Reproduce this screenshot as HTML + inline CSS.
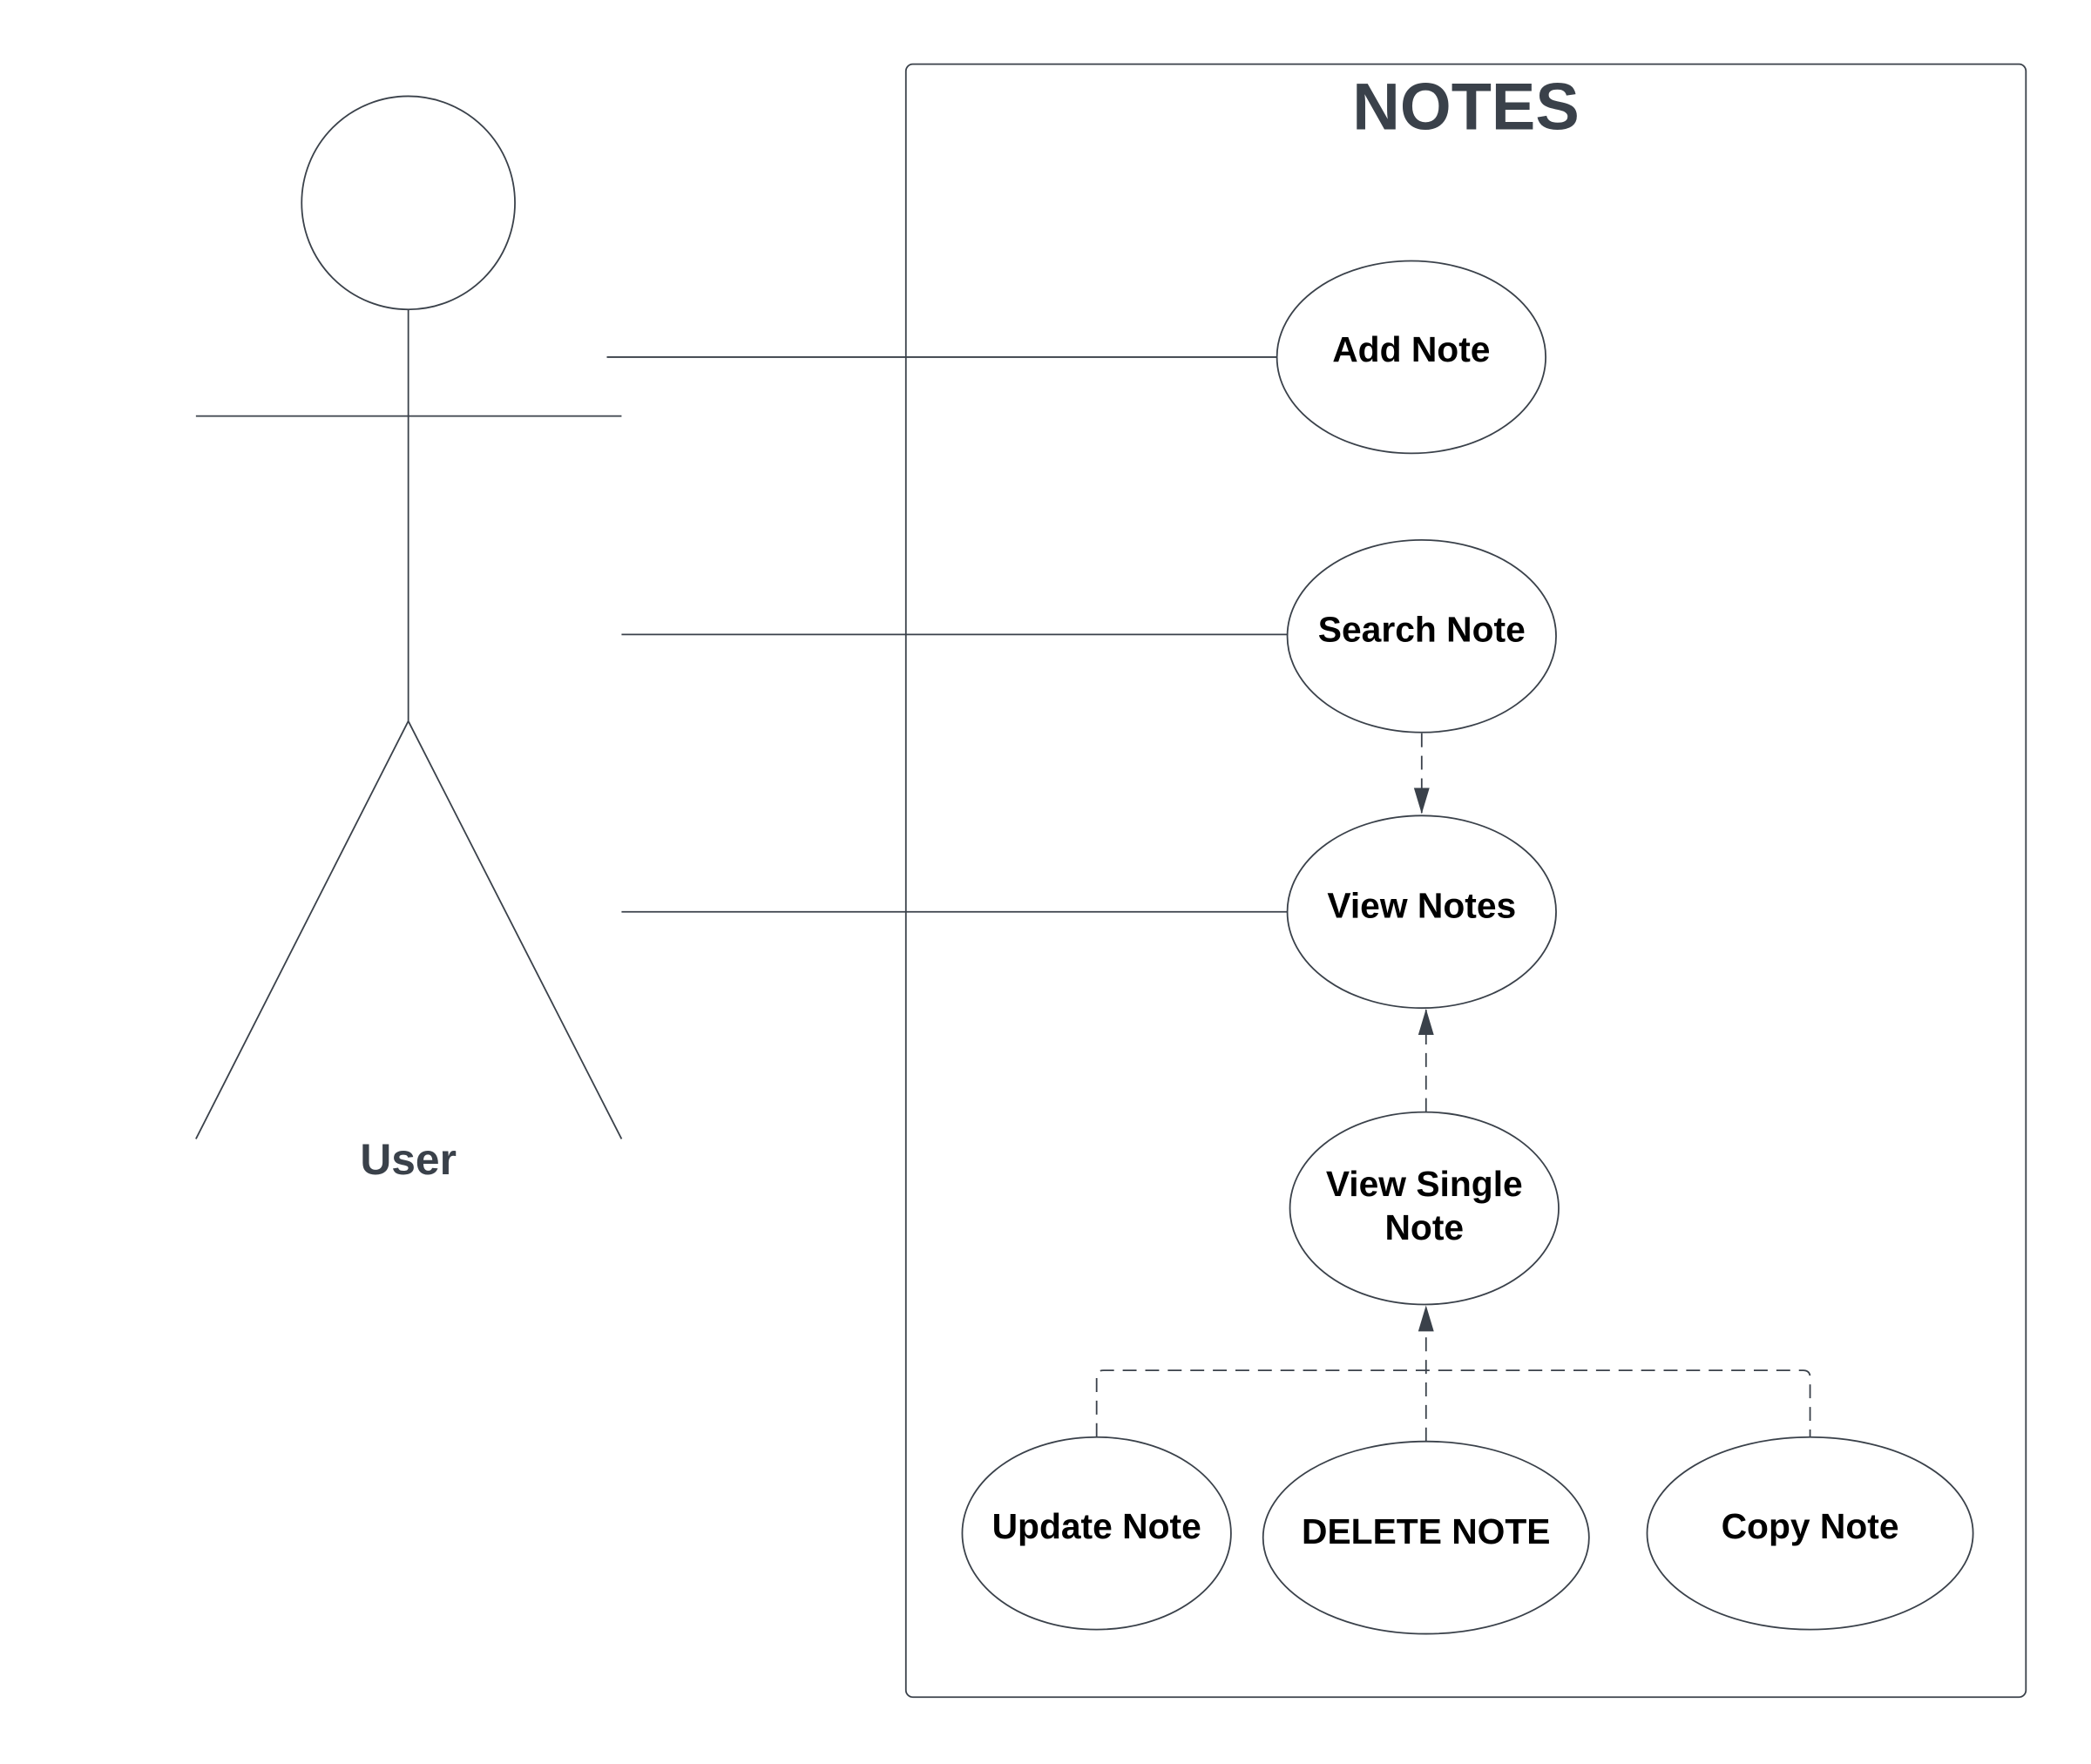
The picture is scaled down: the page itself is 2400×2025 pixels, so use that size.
<!DOCTYPE html>
<html><head><meta charset="utf-8"><style>html,body{margin:0;padding:0;background:#fff}svg{display:block}</style></head>
<body>
<svg width="2400" height="2025" viewBox="0 0 2400 2025" xmlns="http://www.w3.org/2000/svg" font-family="'Liberation Sans', Arial, sans-serif">
<defs>
<marker id="arw" viewBox="0 0 30 20" markerWidth="30" markerHeight="20" refX="29" refY="10" orient="auto" markerUnits="userSpaceOnUse">
<path d="M0,1 L30,10 L0,19 Z" fill="#3a414a"/>
</marker>
</defs>
<g transform="scale(0.995)">
<g stroke="#3a414a" stroke-width="1.8" fill="none">
<rect x="1045" y="74" width="1292" height="1884" rx="8"/>
<circle cx="471" cy="234" r="123" fill="#fff"/>
<line x1="471" y1="357" x2="471" y2="832"/>
<line x1="226" y1="480" x2="717" y2="480"/>
<line x1="471" y1="832" x2="226" y2="1314"/>
<line x1="471" y1="832" x2="717" y2="1314"/>
<line x1="700" y1="412" x2="1473" y2="412"/>
<line x1="717" y1="732" x2="1485" y2="732"/>
<line x1="717" y1="1052" x2="1485" y2="1052"/>
<g stroke-dasharray="16,10">
<line x1="1640" y1="846" x2="1640" y2="938" marker-end="url(#arw)"/>
<line x1="1645" y1="1283" x2="1645" y2="1165" marker-end="url(#arw)"/>
<line x1="1645" y1="1663" x2="1645" y2="1507" marker-end="url(#arw)"/>
<path d="M1265,1658 L1265,1589 Q1265,1581 1273,1581 L2080,1581 Q2088,1581 2088,1589 L2088,1658"/>
</g>
</g>
<g stroke="#3a414a" stroke-width="1.8" fill="#fff">
<ellipse cx="1628" cy="412" rx="155" ry="111"/>
<ellipse cx="1640" cy="734" rx="155" ry="111"/>
<ellipse cx="1640" cy="1052" rx="155" ry="111"/>
<ellipse cx="1643" cy="1394" rx="155" ry="111"/>
<ellipse cx="1265" cy="1769" rx="155" ry="111"/>
<ellipse cx="1645" cy="1774" rx="188" ry="111"/>
<ellipse cx="2088" cy="1769" rx="188" ry="111"/>
</g>
<g font-weight="bold" fill="#000" font-size="41" text-anchor="middle">
<text x="1628" y="417">Add Note</text>
<text x="1640" y="740">Search Note</text>
<text x="1640" y="1059">View Notes</text>
<text x="1643" y="1380">View Single</text>
<text x="1643" y="1430">Note</text>
<text x="1265" y="1775">Update Note</text>
<text x="1645" y="1781">DELETE NOTE</text>
<text x="2088" y="1775">Copy Note</text>
</g>
<text x="1691" y="149" text-anchor="middle" font-size="76" font-weight="bold" fill="#3a414a">NOTES</text>
<text x="471" y="1355" text-anchor="middle" font-size="50" font-weight="bold" fill="#3a414a">User</text>
</g>
</svg>
</body></html>
